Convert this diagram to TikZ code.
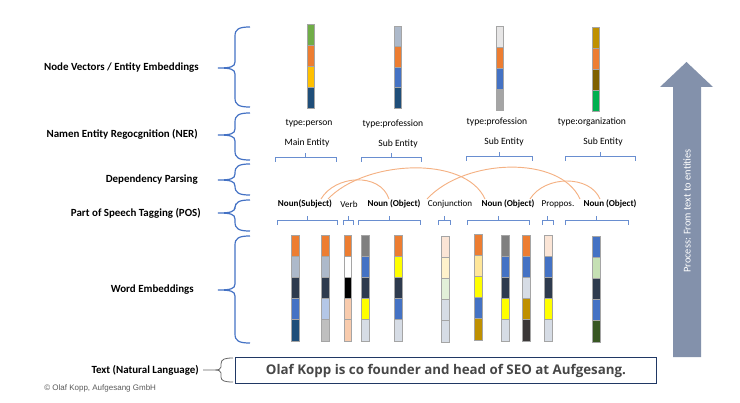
\documentclass[tikz,border=0pt]{standalone}
\usepackage{fontspec}
\setmainfont{Carlito}
\newfontfamily\sentfont{Open Sans}
\newfontfamily\arialf{Liberation Sans}
\definecolor{bracecol}{HTML}{4472C4}
\definecolor{Or}{HTML}{ED7D31}
\definecolor{Gb}{HTML}{ADB9CA}
\definecolor{Dk}{HTML}{2E3B4E}
\definecolor{Bl}{HTML}{4472C4}
\definecolor{Db}{HTML}{1F4E79}
\definecolor{Lb}{HTML}{B4C7E7}
\definecolor{Gy}{HTML}{BFBFBF}
\definecolor{Pe}{HTML}{F8CBAD}
\definecolor{Gr}{HTML}{7F7F7F}
\definecolor{Ye}{HTML}{FFFF00}
\definecolor{Lg}{HTML}{D6DCE5}
\definecolor{Lp}{HTML}{FBE5D6}
\definecolor{Cr}{HTML}{FFF2CC}
\definecolor{Lgr}{HTML}{E2F0D9}
\definecolor{Lo}{HTML}{FFE699}
\definecolor{Go}{HTML}{BF9000}
\definecolor{Br}{HTML}{3B3838}
\definecolor{Mg}{HTML}{C5E0B4}
\definecolor{Dg}{HTML}{385723}
\definecolor{Gn}{HTML}{70AD47}
\definecolor{Yo}{HTML}{FFC000}
\definecolor{Lw}{HTML}{E7E6E6}
\definecolor{Mgy}{HTML}{A5A5A5}
\definecolor{Ol}{HTML}{7F6000}
\definecolor{Eg}{HTML}{00B050}
\definecolor{arrowcol}{HTML}{8391AB}
\definecolor{arccol}{HTML}{F4B183}
\definecolor{boxcol}{HTML}{203864}
\newcommand\myBar[5]{% x, top, seg height, width, colours
  \foreach \c [count=\i] in {#5}{
    \filldraw[fill=\c,draw=Gr!70,line width=0.5pt] ({#1-#4/2},{#2+(\i-1)*#3}) rectangle ({#1+#4/2},{#2+\i*#3});
  }}
\newcommand\myBrace[3]{% top, bottom, mid
  \draw[bracecol,line width=0.9pt] (250,#1) .. controls (239,#1) and (235,#1+2) .. (235,#1+9) -- (235,#3-6) .. controls (235,#3-1) and (230,#3) .. (218,#3) .. controls (230,#3) and (235,#3+1) .. (235,#3+6) -- (235,#2-9) .. controls (235,#2-2) and (239,#2) .. (250,#2);}
\newcommand\myBracket[3]{% x1,x2,y
  \draw[bracecol!80,line width=0.6pt] (#1,#3+5) -- (#1,#3) -- (#2,#3) -- (#2,#3+5) ({(#1+#2)/2},#3) -- ({(#1+#2)/2},#3-4);}
\tikzset{
  lbl/.style={font=\bfseries\fontsize{8.2}{10}\selectfont,anchor=east,inner sep=0},
  tag/.style={font=\fontsize{7.2}{9}\selectfont,inner sep=0},
  postag/.style={font=\fontsize{6.8}{8}\selectfont,inner sep=0},
  postagb/.style={font=\bfseries\fontsize{6.8}{8}\selectfont,inner sep=0},
  arc/.style={arccol,line width=0.7pt}
}
\begin{document}
\begin{tikzpicture}[x=0.75pt,y=-0.75pt]
\useasboundingbox (0,0) rectangle (740,403);
% left labels
\node[lbl] (l1) at (199,68) {Node Vectors / Entity Embeddings};
\node[lbl] (l2) at (198,134) {Namen Entity Regocgnition (NER)};
\node[lbl] (l3) at (198,180) {Dependency Parsing};
\node[lbl] (l4) at (201,213) {Part of Speech Tagging (POS)};
\node[lbl] (l5) at (194,290) {Word Embeddings};
\node[lbl] (l6) at (199,370) {Text (Natural Language)};
\node[font=\arialf\fontsize{6}{7}\selectfont,text=black!65,anchor=west,inner sep=0] (cp) at (44,388) {© Olaf Kopp, Aufgesang GmbH};
% braces
\myBrace{27}{107}{68}
\myBrace{113}{160}{135}
\myBrace{164}{195}{180}
\myBrace{200}{231}{213}
\myBrace{236}{343}{290}
\draw[black!60,line width=0.6pt] (203,370) -- (214,370) (233,358) .. controls (225,358) and (221,359) .. (221,364) -- (221,367) .. controls (221,369) and (219,370) .. (214,370) .. controls (219,370) and (221,371) .. (221,373) -- (221,377) .. controls (221,381) and (225,382) .. (233,382);
% text box
\node[draw=boxcol,line width=0.9pt,minimum width=421.5pt*0.75,minimum height=25.5pt*0.75,inner sep=0,font=\sentfont\bfseries\fontsize{10}{12}\selectfont,text=black!72] (sent) at (446,370.5) {Olaf Kopp is co founder and head of SEO at Aufgesang.};
% process arrow
\fill[arrowcol] (673,357) -- (673,87) -- (660,87) -- (686.5,62) -- (713,87) -- (701,87) -- (701,357) -- cycle;
\node[rotate=90,text=white,font=\fontsize{7.8}{9}\selectfont,inner sep=0] (proc) at (687,211) {Process: From text to entities};
% top bars
\myBar{311}{24}{21.2}{7}{Gn,Or,Yo,Db}
\myBar{398}{26}{20.5}{7}{Gb,Or,Bl,Db}
\myBar{500}{26}{21}{7}{Lw,Or,Bl,Mgy}
\myBar{596}{27}{21.2}{7}{Go,Or,Ol,Eg}
% NER labels
\node[tag] (t1) at (309,123) {type:person};
\node[tag] (t2) at (393,124) {type:profession};
\node[tag] (t3) at (497,122) {type:profession};
\node[tag] (t4) at (592,122) {type:organization};
\node[tag] (e1) at (307,143) {Main Entity};
\node[tag] (e2) at (398,144) {Sub Entity};
\node[tag] (e3) at (504,142) {Sub Entity};
\node[tag] (e4) at (603,142) {Sub Entity};
\myBracket{275}{336}{157}
\myBracket{361}{421}{157}
\myBracket{466}{532}{156}
\myBracket{565}{635}{156}
% POS labels
\node[postagb] (p1) at (305,204) {Noun(Subject)};
\node[postag] (p2) at (349,204) {Verb};
\node[postagb] (p3) at (394,204) {Noun (Object)};
\node[postag] (p4) at (450,204) {Conjunction};
\node[postagb] (p5) at (508,204) {Noun (Object)};
\node[postag] (p6) at (558,204) {Proppos.};
\node[postagb] (p7) at (610,204) {Noun (Object)};
\myBracket{277}{337}{220}
\myBracket{343}{353}{220}
\myBracket{358}{420}{220}
\myBracket{438}{450}{220}
\myBracket{467}{529}{220}
\myBracket{542}{553}{220}
\myBracket{565}{628}{220}
% dependency arcs
\coordinate (a1) at (321,199); \coordinate (b1) at (389,199);
\coordinate (a2) at (328,199); \coordinate (b2) at (485,199);
\coordinate (a3) at (427,199); \coordinate (b3) at (580,199);
\coordinate (a4) at (530,199); \coordinate (b4) at (600,199);
\draw[arc] (a1) .. controls (335,175) and (380,172) .. (b1);
\draw[arc] (a2) .. controls (365,160) and (465,155) .. (b2);
\draw[arc] (a3) .. controls (465,158) and (560,155) .. (b3);
\draw[arc] (a4) .. controls (545,175) and (590,175) .. (b4);
% word embedding bars
\myBar{295}{235}{21.2}{8}{Or,Gb,Dk,Bl,Db}
\myBar{325}{235}{21.2}{8}{Or,Gb,Dk,Lb,Gy}
\myBar{348}{235}{21.2}{7}{Or,white,black,Pe,Pe}
\myBar{365}{235}{21.2}{8}{Gr,Bl,Dk,Ye,Lg}
\myBar{398}{235}{21.2}{8}{Or,Ye,Dk,Bl,Lg}
\myBar{445}{236}{21.2}{8}{Lp,Cr,Lgr,Lg,Lg}
\myBar{478}{234}{21.2}{8}{Or,Lo,Ye,Bl,Go}
\myBar{505}{235}{21.2}{8}{Gr,Bl,Dk,Ye,Lg}
\myBar{526}{235}{21.2}{8}{Or,Bl,Lg,Go,Br}
\myBar{548}{235}{21.2}{8}{Lp,Bl,Dk,Ye,Lg}
\myBar{596}{236}{21.2}{8}{Bl,Mg,Dk,Bl,Dg}
\end{tikzpicture}
\end{document}
